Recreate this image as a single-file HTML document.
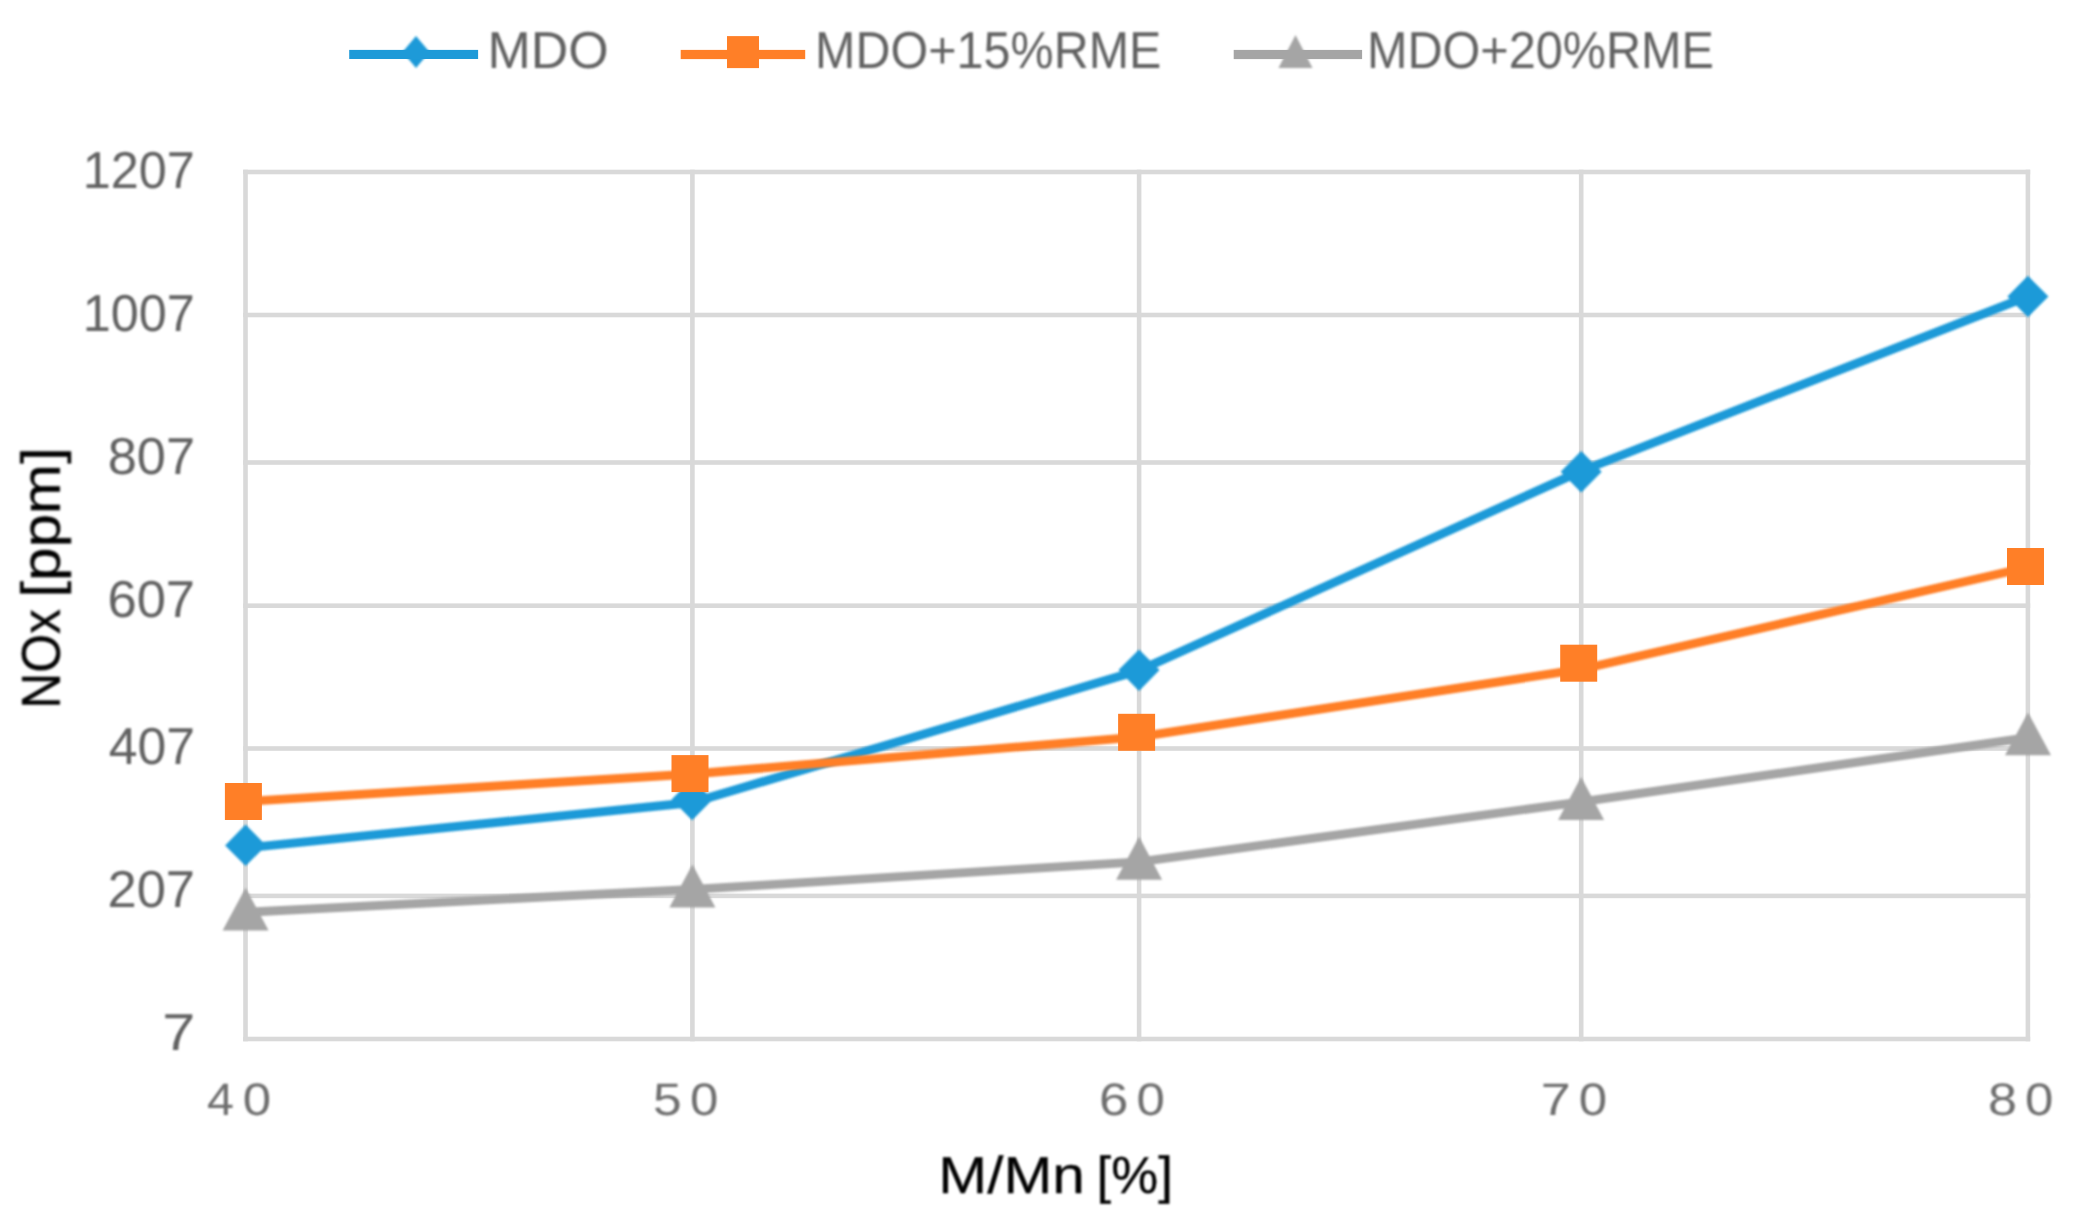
<!DOCTYPE html>
<html><head><meta charset="utf-8"><title>NOx chart</title>
<style>
html,body{margin:0;padding:0;background:#fff;}
body{width:2085px;height:1221px;overflow:hidden;}
svg{display:block;}
text{font-family:"Liberation Sans",sans-serif;font-kerning:none;text-rendering:geometricPrecision;}
</style></head><body>
<svg width="2085" height="1221" viewBox="0 0 2085 1221">
<defs>
<filter id="soft" x="0" y="0" width="2085" height="1221" filterUnits="userSpaceOnUse"><feGaussianBlur stdDeviation="0.9"/></filter>
<filter id="tsoft" x="0" y="0" width="2085" height="1221" filterUnits="userSpaceOnUse"><feGaussianBlur stdDeviation="1.0"/></filter>
</defs>
<rect width="2085" height="1221" fill="#fff"/>

<g fill="#d9d9d9">
<rect x="243.20" y="169.70" width="1787.00" height="4.6"/>
<rect x="243.20" y="312.70" width="1787.00" height="4.6"/>
<rect x="243.20" y="460.20" width="1787.00" height="4.6"/>
<rect x="243.20" y="603.40" width="1787.00" height="4.6"/>
<rect x="243.20" y="746.20" width="1787.00" height="4.6"/>
<rect x="243.20" y="893.60" width="1787.00" height="4.6"/>
<rect x="243.20" y="1036.70" width="1787.00" height="4.6"/>
<rect x="243.20" y="169.70" width="4.6" height="871.60"/>
<rect x="690.10" y="169.70" width="4.6" height="871.60"/>
<rect x="1136.80" y="169.70" width="4.6" height="871.60"/>
<rect x="1578.90" y="169.70" width="4.6" height="871.60"/>
<rect x="2025.60" y="169.70" width="4.6" height="871.60"/>
</g>
<g filter="url(#soft)">
<polyline points="245.5,848.0 692.4,802.5 1139.1,670.5 1581.2,471.0 2027.9,296.3" fill="none" stroke="#1e9ad8" stroke-width="8.8" stroke-linejoin="round" stroke-linecap="butt"/>
<polygon points="245.6,824.6 266.1,845.4 245.6,866.1 225.1,845.4" fill="#1e9ad8"/>
<polygon points="692.1,778.8 712.6,799.5 692.1,820.2 671.6,799.5" fill="#1e9ad8"/>
<polygon points="1139.0,649.4 1159.5,670.1 1139.0,690.9 1118.5,670.1" fill="#1e9ad8"/>
<polygon points="1581.2,451.1 1601.7,471.8 1581.2,492.6 1560.7,471.8" fill="#1e9ad8"/>
<polygon points="2027.9,275.8 2048.4,296.5 2027.9,317.2 2007.4,296.5" fill="#1e9ad8"/>
<polygon points="416.0,36.0 429.5,52.0 416.0,68.0 402.5,52.0" fill="#1e9ad8"/>
</g>
<g filter="url(#soft)"><polyline points="245.5,801.4 692.4,774.0 1139.1,736.8 1581.2,669.2 2027.9,567.3" fill="none" stroke="#ff7f27" stroke-width="8.8" stroke-linejoin="round" stroke-linecap="butt"/></g>
<rect x="224.9" y="783.0" width="37" height="37" fill="#ff7f27"/>
<rect x="671.5" y="755.1" width="37" height="37" fill="#ff7f27"/>
<rect x="1118.1" y="713.8" width="37" height="37" fill="#ff7f27"/>
<rect x="1560.2" y="644.7" width="37" height="37" fill="#ff7f27"/>
<rect x="2007.0" y="548.0" width="37" height="37" fill="#ff7f27"/>
<g filter="url(#soft)">
<polyline points="245.5,912.3 692.4,889.4 1139.1,861.8 1581.2,801.8 2027.9,737.6" fill="none" stroke="#a5a5a5" stroke-width="8.8" stroke-linejoin="round" stroke-linecap="butt"/>
<polygon points="245.6,887.7 268.6,930.6 222.6,930.6" fill="#a5a5a5"/>
<polygon points="692.4,864.4 715.4,907.6 669.4,907.6" fill="#a5a5a5"/>
<polygon points="1139.1,836.8 1162.1,879.8 1116.1,879.8" fill="#a5a5a5"/>
<polygon points="1581.1,776.9 1604.1,820.0 1558.1,820.0" fill="#a5a5a5"/>
<polygon points="2028.0,712.5 2051.0,755.2 2005.0,755.2" fill="#a5a5a5"/>
<polygon points="1295.5,35.0 1312.5,68.1 1278.5,68.1" fill="#a5a5a5"/>
</g>
<rect x="349.2" y="49.9" width="128.9" height="9.1" fill="#1e9ad8"/>
<rect x="680.7" y="49.9" width="124.5" height="9.2" fill="#ff7f27"/>
<rect x="727.0" y="36.1" width="32" height="32" fill="#ff7f27"/>
<rect x="1233.7" y="49.9" width="128.4" height="9.2" fill="#a5a5a5"/>
<g filter="url(#tsoft)">
<text transform="translate(487.54 67.60) scale(0.25986 0.26014)" font-size="200" font-weight="normal" fill="#626262" >MDO</text>
<text transform="translate(815.02 67.60) scale(0.24259 0.26014)" font-size="200" font-weight="normal" fill="#626262" >MDO+15%RME</text>
<text transform="translate(1366.91 67.60) scale(0.24302 0.26014)" font-size="200" font-weight="normal" fill="#626262" >MDO+20%RME</text>
<text transform="translate(82.72 187.60) scale(0.25167 0.26000)" font-size="200" font-weight="normal" fill="#626262" >1207</text>
<text transform="translate(82.72 330.50) scale(0.25167 0.26000)" font-size="200" font-weight="normal" fill="#626262" >1007</text>
<text transform="translate(107.75 473.70) scale(0.26146 0.26000)" font-size="200" font-weight="normal" fill="#626262" >807</text>
<text transform="translate(107.48 616.60) scale(0.26230 0.26000)" font-size="200" font-weight="normal" fill="#626262" >607</text>
<text transform="translate(108.77 764.40) scale(0.25831 0.26000)" font-size="200" font-weight="normal" fill="#626262" >407</text>
<text transform="translate(107.48 907.00) scale(0.26230 0.26000)" font-size="200" font-weight="normal" fill="#626262" >207</text>
<text transform="translate(162.23 1050.20) scale(0.29670 0.26000)" font-size="200" font-weight="normal" fill="#626262" >7</text>
<text transform="translate(206.98 1114.80) scale(0.24257 0.22786)" font-size="200" font-weight="normal" fill="#6e6e6e" >4</text>
<text transform="translate(242.81 1114.80) scale(0.25521 0.22786)" font-size="200" font-weight="normal" fill="#6e6e6e" >0</text>
<text transform="translate(652.89 1114.80) scale(0.25789 0.22786)" font-size="200" font-weight="normal" fill="#6e6e6e" >5</text>
<text transform="translate(689.91 1114.80) scale(0.25521 0.22786)" font-size="200" font-weight="normal" fill="#6e6e6e" >0</text>
<text transform="translate(1098.92 1114.80) scale(0.26344 0.22786)" font-size="200" font-weight="normal" fill="#6e6e6e" >6</text>
<text transform="translate(1136.51 1114.80) scale(0.25521 0.22786)" font-size="200" font-weight="normal" fill="#6e6e6e" >0</text>
<text transform="translate(1540.66 1114.80) scale(0.26923 0.22786)" font-size="200" font-weight="normal" fill="#6e6e6e" >7</text>
<text transform="translate(1578.71 1114.80) scale(0.25521 0.22786)" font-size="200" font-weight="normal" fill="#6e6e6e" >0</text>
<text transform="translate(1988.10 1114.80) scale(0.26064 0.22786)" font-size="200" font-weight="normal" fill="#6e6e6e" >8</text>
<text transform="translate(2025.01 1114.80) scale(0.25521 0.22786)" font-size="200" font-weight="normal" fill="#6e6e6e" >0</text>
<text transform="translate(938.31 1192.90) scale(0.29321 0.26087)" font-size="200" font-weight="normal" fill="#000" stroke="#000" stroke-width="1.1" vector-effect="non-scaling-stroke">M/Mn </text>
<text transform="translate(1096.61 1192.90) scale(0.26385 0.26087)" font-size="200" font-weight="normal" fill="#000" stroke="#000" stroke-width="1.1" vector-effect="non-scaling-stroke">[%]</text>
<g transform="translate(59.7 704.7) rotate(-90)"><text transform="translate(-3.99 0.00) scale(0.24948 0.27246)" font-size="200" font-weight="normal" fill="#000" stroke="#000" stroke-width="1.1" vector-effect="non-scaling-stroke">NOx </text><text transform="translate(107.09 0.00) scale(0.30042 0.27246)" font-size="200" font-weight="normal" fill="#000" stroke="#000" stroke-width="1.1" vector-effect="non-scaling-stroke">[ppm]</text></g>
</g>
</svg></body></html>
